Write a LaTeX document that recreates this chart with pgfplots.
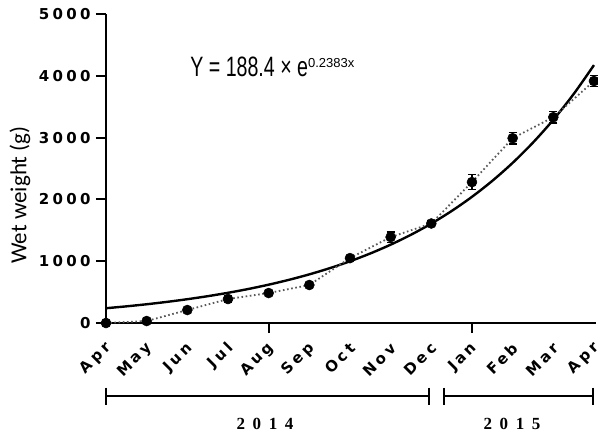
\documentclass[border=0pt]{standalone}
\usepackage{pgfplots}
\usepackage{pgfplotstable}
\pgfplotsset{compat=1.18}
\usepackage{fontspec}
\setmainfont{Liberation Sans}
\newfontfamily\tickfont[LetterSpace=22]{DejaVu Sans}
\newfontfamily\yearfont[LetterSpace=45]{Liberation Serif}
\newfontfamily\labfont{Carlito}
\pgfplotstableread{
x y err
0 0 0
1 32 0
2 210 0
3 388 60
4 485 40
5 615 30
6 1050 40
7 1390 84
8 1610 40
9 2280 124
10 2990 92
11 3330 95
12 3915 92
}\datatable
\begin{document}
\begin{tikzpicture}
\begin{axis}[
  scale only axis, width=490pt, height=309pt,
  xmin=0, xmax=12.05, ymin=0, ymax=5000,
  axis x line=bottom, axis y line=left,
  axis line style={line width=2.4pt, -},
  clip=false,
  ytick={0,1000,2000,3000,4000,5000},
  /pgf/number format/1000 sep={},
  /pgf/number format/assume math mode=true,
  yticklabel style={font=\tickfont\bfseries\fontsize{15}{15}\selectfont, xshift=-2pt},
  xtick={4,9}, xticklabels={,},
  extra x ticks={0,1,2,3,4,5,6,7,8,9,10,11,12},
  extra x tick labels={Apr,May,Jun,Jul,Aug,Sep,Oct,Nov,Dec,Jan,Feb,Mar,Apr},
  extra x tick style={major tick length=0pt},
  xticklabel style={font=\tickfont\bfseries\fontsize{15}{15}\selectfont, rotate=45, anchor=east, inner sep=0pt, xshift=-14pt, yshift=-18pt},
  tick align=outside, major tick length=10pt,
  tick style={line width=2pt, black},
]
\addplot[line width=2.4pt, smooth, black] coordinates {
(0,239.1) (0.5,269.4) (1,303.4) (1.5,341.8) (2,385.1) (2.5,433.8) (3,488.7) (3.5,550.5)
(4,620.2) (4.5,698.7) (5,787.1) (5.5,886.7) (6,998.9) (6.5,1125.3) (7,1267.7) (7.5,1428.1)
(8,1608.8) (8.5,1812.4) (9,2041.7) (9.5,2300.1) (10,2591.1) (10.5,2919.0) (11,3288.3) (11.5,3704.4) (12,4173.1)};
\addplot[color=black!65, line width=1.8pt, dash pattern=on 1.6pt off 2.6pt,
  mark=*, mark size=5pt, mark options={solid, fill=black, draw=black, line width=0.5pt},
  error bars/.cd, y dir=both, y explicit,
  error bar style={solid, black, line width=1.3pt},
  error mark options={rotate=90, mark size=4pt, line width=1.3pt, black}]
  table[x=x, y=y, y error=err] {\datatable};
\node[anchor=base west, inner sep=0pt] at (axis cs:2.07,3981)
  {\scalebox{0.7}[1]{\fontsize{28}{28}\selectfont Y = 188.4 × e}\raisebox{9pt}{\fontsize{13}{13}\selectfont 0.2383x}};
\end{axis}
\node[rotate=90, inner sep=0pt] at (-86pt,128pt) {\labfont\fontsize{23}{23}\selectfont Wet weight (g)};
\draw[line width=2.4pt] (0pt,-73pt) -- (323pt,-73pt);
\draw[line width=2.4pt] (0pt,-64.5pt) -- (0pt,-81.5pt);
\draw[line width=2.4pt] (323pt,-64.5pt) -- (323pt,-81.5pt);
\draw[line width=2.4pt] (338pt,-73pt) -- (487pt,-73pt);
\draw[line width=2.4pt] (338pt,-64.5pt) -- (338pt,-81.5pt);
\draw[line width=2.4pt] (487pt,-64.5pt) -- (487pt,-81.5pt);
\node[inner sep=0pt] at (159pt,-101pt) {\yearfont\bfseries\fontsize{17}{17}\selectfont 2014};
\node[inner sep=0pt] at (406pt,-101pt) {\yearfont\bfseries\fontsize{17}{17}\selectfont 2015};
\pgfresetboundingbox
\path[use as bounding box] (-106pt,-114pt) rectangle (492pt,323pt);
\end{tikzpicture}
\end{document}
